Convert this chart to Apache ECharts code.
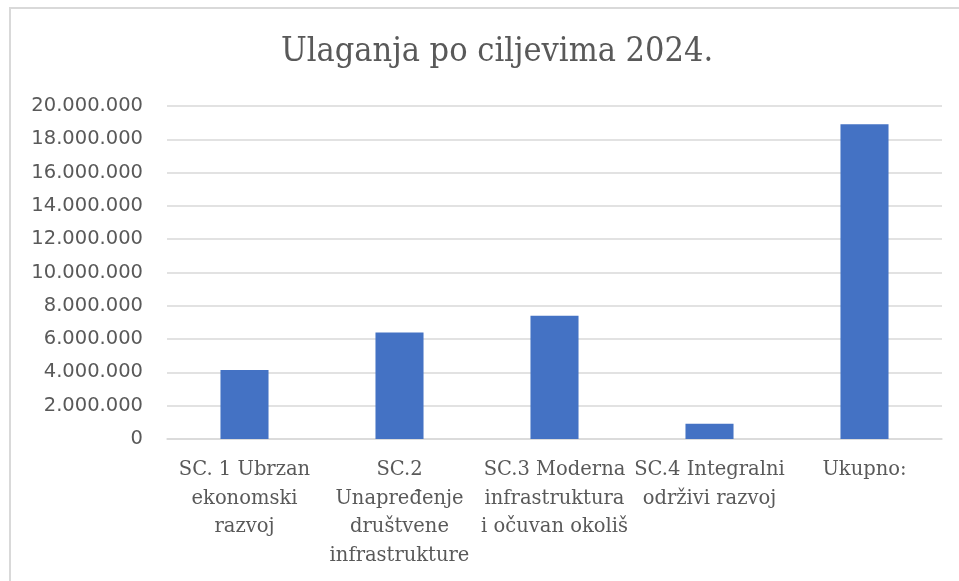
<!DOCTYPE html>
<html>
<head>
<meta charset="utf-8">
<script src="https://cdn.jsdelivr.net/npm/echarts@6/dist/echarts.min.js"></script>
<style>
  html, body { margin: 0; padding: 0; background: #fff; }
  #chart { width: 959px; height: 581px; }
</style>
</head>
<body>
<div id="chart"></div>
<script>
// categories (line breaks as on the original axis)
var categories = [
    'SC. 1 Ubrzan\nekonomski\nrazvoj',
    'SC.2\nUnapređenje\ndruštvene\ninfrastrukture',
    'SC.3 Moderna\ninfrastruktura\ni očuvan okoliš',
    'SC.4 Integralni\nodrživi razvoj',
    'Ukupno:'
];
var values = [4150000, 6400000, 7400000, 920000, 18900000];
var yMin = 0;
var yMax = 20000000;
var yStep = 2000000;

function formatThousands(v) {
    return String(v).replace(/\B(?=(\d{3})+(?!\d))/g, '.');
}

var chart = echarts.init(document.getElementById('chart'));

var option = {
    animation: false,
    title: {
        text: 'Ulaganja po ciljevima 2024.',
        left: 492,
        top: 30,
        textAlign: 'center',
        textStyle: {
            fontFamily: '"DejaVu Serif Condensed", "DejaVu Serif", serif',
            fontWeight: 'normal',
            fontSize: 34,
            color: '#595959'
        }
    },
    graphic: [
        {
            type: 'rect',
            shape: { x: 10, y: 8, width: 1000, height: 1000 },
            style: { fill: null, stroke: '#d9d9d9', lineWidth: 2 }
        }
    ],
    grid: {
        left: 167,
        right: 17,
        top: 106,
        bottom: 142
    },
    xAxis: {
        type: 'category',
        data: categories,
        axisLine: { show: true, lineStyle: { color: '#d9d9d9', width: 1.5 } },
        axisTick: { show: false },
        axisLabel: {
            interval: 0,
            margin: 17,
            lineHeight: 28.5,
            fontFamily: '"DejaVu Serif", serif',
            fontSize: 19.5,
            color: '#595959'
        }
    },
    yAxis: {
        type: 'value',
        min: yMin,
        max: yMax,
        interval: yStep,
        axisLine: { show: false },
        axisTick: { show: false },
        splitLine: { lineStyle: { color: '#d9d9d9', width: 1.5 } },
        axisLabel: {
            margin: 24,
            fontFamily: '"DejaVu Sans", sans-serif',
            fontSize: 19.5,
            color: '#595959',
            formatter: function (v) { return formatThousands(v); }
        }
    },
    series: [
        {
            type: 'bar',
            data: values,
            barWidth: '31%',
            itemStyle: { color: '#4472C4' }
        }
    ]
};
chart.setOption(option);
</script>
</body>
</html>
